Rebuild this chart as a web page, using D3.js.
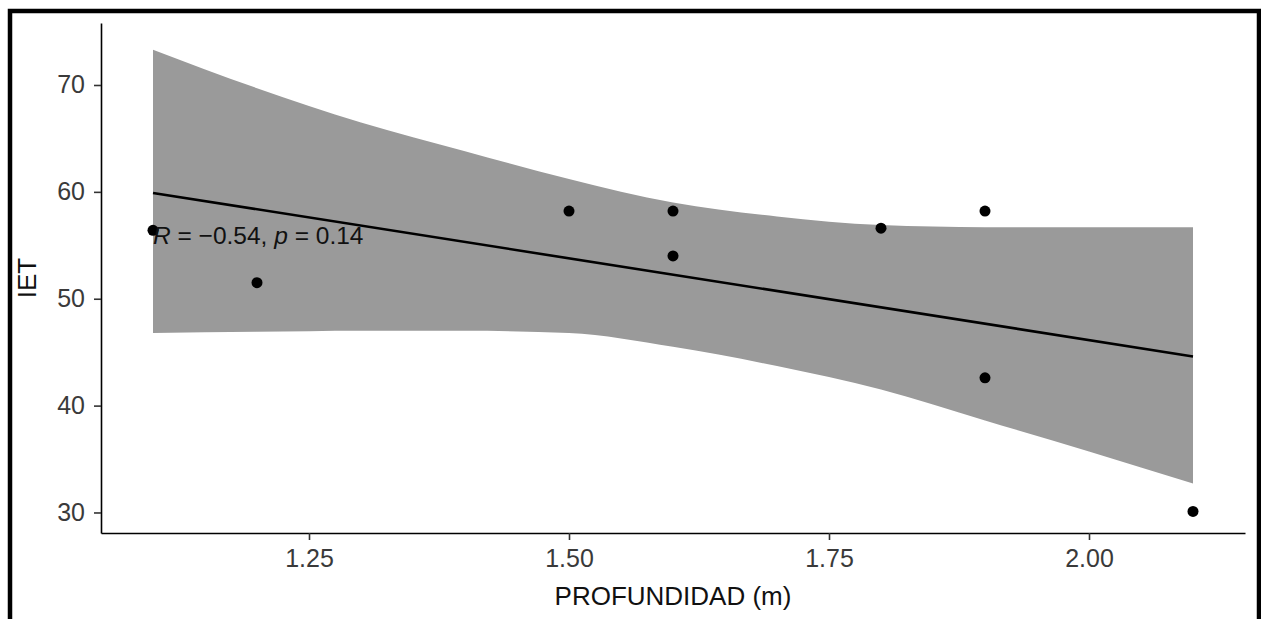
<!DOCTYPE html>
<html>
<head>
<meta charset="utf-8">
<script src="https://cdn.jsdelivr.net/npm/d3@7"></script>
<style>
  body { margin: 0; background: #fff; }
  .chart text { font-family: 'Liberation Sans', Arial, sans-serif; }
</style>
</head>
<body>
<svg class="chart"></svg>
<script>
// points
const profundidad = [1.1, 1.2, 1.5, 1.6, 1.6, 1.8, 1.9, 1.9, 2.1];
const iet = [56.4, 51.5, 58.2, 58.2, 54.0, 56.6, 58.2, 42.6, 30.1];

// fitted line ends and confidence band
const fit_x = [1.1, 2.1];
const fit_y = [59.9, 44.6];
const band_x = [1.1, 1.2, 1.3, 1.4, 1.5, 1.6, 1.7, 1.8, 1.9, 2.0, 2.1];
const band_hi = [73.3, 69.7, 66.5, 63.8, 61.2, 59.0, 57.7, 56.9, 56.7, 56.7, 56.7];
const band_lo = [46.8, 46.9, 47.0, 47.0, 46.8, 45.5, 43.7, 41.5, 38.6, 35.7, 32.7];

const x_ticks = [1.25, 1.50, 1.75, 2.00];
const y_ticks = [30, 40, 50, 60, 70];
const x_domain = [1.05, 2.15];
const y_domain = [28.08, 75.8];

const x_title = 'PROFUNDIDAD (m)';
const y_title = 'IET';
const cor_r = '\u22120.54';
const cor_p = '0.14';
const label_pos = [1.1, 55.9];

const svg_width = 1261;
const svg_height = 619;
const margin = {top: 23, left: 101};
const chart_width = 1144;
const chart_height = 510;

let svg = d3.select('.chart')
  .attr('width', svg_width)
  .attr('height', svg_height);

svg.append('rect')
  .attr('width', svg_width)
  .attr('height', svg_height)
  .attr('fill', '#fff');

// outer frame
svg.append('rect')
  .attr('x', 10)
  .attr('y', 11)
  .attr('width', 1249)
  .attr('height', 700)
  .attr('fill', 'none')
  .attr('stroke', '#000')
  .attr('stroke-width', 4.5);

let chart = svg.append('g')
  .attr('transform', 'translate(' + margin.left + ',' + margin.top + ')');

let x = d3.scaleLinear().domain(x_domain).range([0, chart_width]);
let y = d3.scaleLinear().domain(y_domain).range([chart_height, 0]);

// band
let band = band_x.map((d, i) => ({x: d, hi: band_hi[i], lo: band_lo[i]}));
chart.append('path')
  .datum(band)
  .attr('fill', '#9a9a9a')
  .attr('d', d3.area()
    .x(d => x(d.x))
    .y0(d => y(d.lo))
    .y1(d => y(d.hi))
    .curve(d3.curveMonotoneX));

// fitted line
chart.append('path')
  .datum(fit_x.map((d, i) => [d, fit_y[i]]))
  .attr('fill', 'none')
  .attr('stroke', '#000')
  .attr('stroke-width', 2.6)
  .attr('d', d3.line().x(d => x(d[0])).y(d => y(d[1])));

// points
chart.selectAll('circle.pt')
  .data(profundidad.map((d, i) => [d, iet[i]]))
  .enter()
  .append('circle')
  .attr('class', 'pt')
  .attr('cx', d => x(d[0]))
  .attr('cy', d => y(d[1]))
  .attr('r', 5.5)
  .attr('fill', '#000');

// correlation label
let lab = chart.append('text')
  .attr('x', x(label_pos[0]))
  .attr('y', y(label_pos[1]))
  .attr('dy', '0.35em')
  .style('font-size', '24.5px')
  .attr('fill', '#111');
lab.append('tspan').style('font-style', 'italic').text('R');
lab.append('tspan').text(' = ' + cor_r + ', ');
lab.append('tspan').style('font-style', 'italic').text('p');
lab.append('tspan').text(' = ' + cor_p);

// axes
let x_axis = chart.append('g')
  .attr('transform', 'translate(0,' + chart_height + ')')
  .call(d3.axisBottom(x).tickValues(x_ticks).tickFormat(d3.format('.2f'))
    .tickSize(7).tickSizeOuter(0).tickPadding(9));

let y_axis = chart.append('g')
  .call(d3.axisLeft(y).tickValues(y_ticks).tickSize(7).tickSizeOuter(0).tickPadding(9));

[x_axis, y_axis].forEach(a => {
  a.select('.domain').attr('stroke', '#000').attr('stroke-width', 1.6);
  a.selectAll('.tick line').attr('stroke', '#333').attr('stroke-width', 1.6);
  a.selectAll('.tick text')
    .attr('fill', '#3a3a3a')
    .style('font-size', '25px')
    .style('font-family', "'Liberation Sans', Arial, sans-serif");
});

chart.append('text')
  .attr('x', chart_width / 2)
  .attr('y', chart_height + 72)
  .attr('text-anchor', 'middle')
  .style('font-size', '26px')
  .attr('fill', '#111')
  .text(x_title);

chart.append('text')
  .attr('transform', 'translate(' + (-65) + ',' + (chart_height / 2) + ') rotate(-90)')
  .attr('text-anchor', 'middle')
  .style('font-size', '26px')
  .attr('fill', '#111')
  .text(y_title);
</script>
</body>
</html>
